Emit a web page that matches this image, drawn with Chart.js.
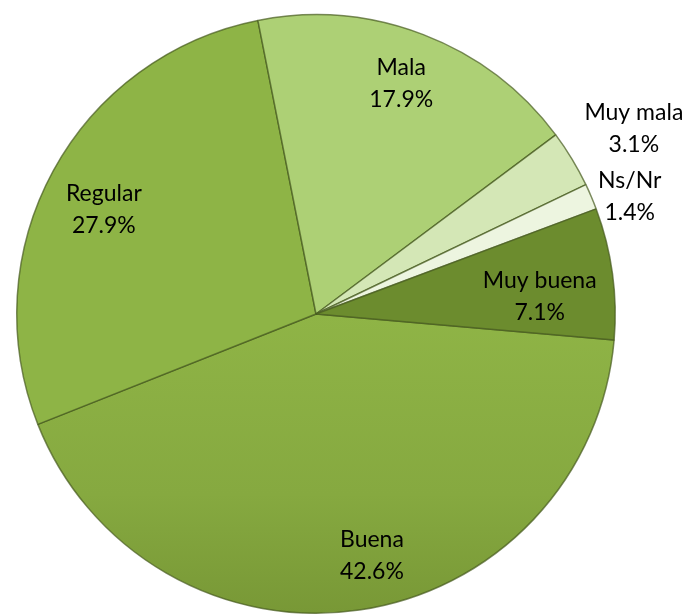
<!DOCTYPE html>
<html>
<head>
<meta charset="utf-8">
<script src="https://cdn.jsdelivr.net/npm/chart.js@4"></script>
<style>
  html, body { margin: 0; padding: 0; background: #fff; }
  #wrap { width: 691px; height: 615px; }
</style>
</head>
<body>
<div id="wrap"><canvas id="pieChart" width="691" height="615"></canvas></div>
<script>
// categories and values (percent), clockwise from 3 o'clock
const categories = ['Buena', 'Regular', 'Mala', 'Muy mala', 'Ns/Nr', 'Muy buena'];
const shares = [42.6, 27.9, 17.9, 3.1, 1.4, 7.1];
const percentLabels = ['42.6%', '27.9%', '17.9%', '3.1%', '1.4%', '7.1%'];

const sliceColors = ['#8aae43', '#8eb446', '#add075', '#d4e7b6', '#edf5e0', '#6c8c2e'];
// label placement: share of the radius and a small turn (degrees) off the slice middle
const labelRadius = [0.83, 0.79, 0.82, 1.23, 1.12, 0.75];
const labelTurn = [-4.7, -2.4, -0.7, 0.9, 2.5, 3.2];

// Buena gets darker towards the bottom edge, like the reference
function sliceFill(context) {
    const i = context.dataIndex;
    const chart = context.chart;
    if (i !== 0 || !chart.chartArea) return sliceColors[i];
    const area = chart.chartArea;
    const g = chart.ctx.createLinearGradient(0, (area.top + area.bottom) / 2, 0, area.bottom);
    g.addColorStop(0, '#8fb446');
    g.addColorStop(0.6, '#86a940');
    g.addColorStop(1, '#789836');
    return g;
}

const sliceLabels = {
    id: 'sliceLabels',
    afterDatasetsDraw(chart) {
        const ctx = chart.ctx;
        const arcs = chart.getDatasetMeta(0).data;
        ctx.save();
        ctx.font = '23px Lato';
        ctx.fillStyle = '#000';
        ctx.textAlign = 'center';
        ctx.textBaseline = 'middle';
        arcs.forEach((arc, i) => {
            const mid = (arc.startAngle + arc.endAngle) / 2 + labelTurn[i] * Math.PI / 180;
            const r = arc.outerRadius * labelRadius[i];
            const x = arc.x + Math.cos(mid) * r;
            const y = arc.y + Math.sin(mid) * r;
            ctx.fillText(categories[i], x, y - 16);
            ctx.fillText(percentLabels[i], x, y + 16);
        });
        ctx.restore();
    }
};

const ctx = document.getElementById('pieChart').getContext('2d');
new Chart(ctx, {
    type: 'pie',
    data: {
        labels: categories,
        datasets: [{
            data: shares,
            backgroundColor: sliceFill,
            borderColor: 'rgba(70, 90, 30, 0.7)',
            borderWidth: 1.5
        }]
    },
    options: {
        responsive: false,
        animation: false,
        rotation: 95,
        layout: { padding: { left: 16, right: 75, top: 14, bottom: 1 } },
        plugins: {
            legend: { display: false },
            tooltip: { enabled: false }
        }
    },
    plugins: [sliceLabels]
});
</script>
</body>
</html>
